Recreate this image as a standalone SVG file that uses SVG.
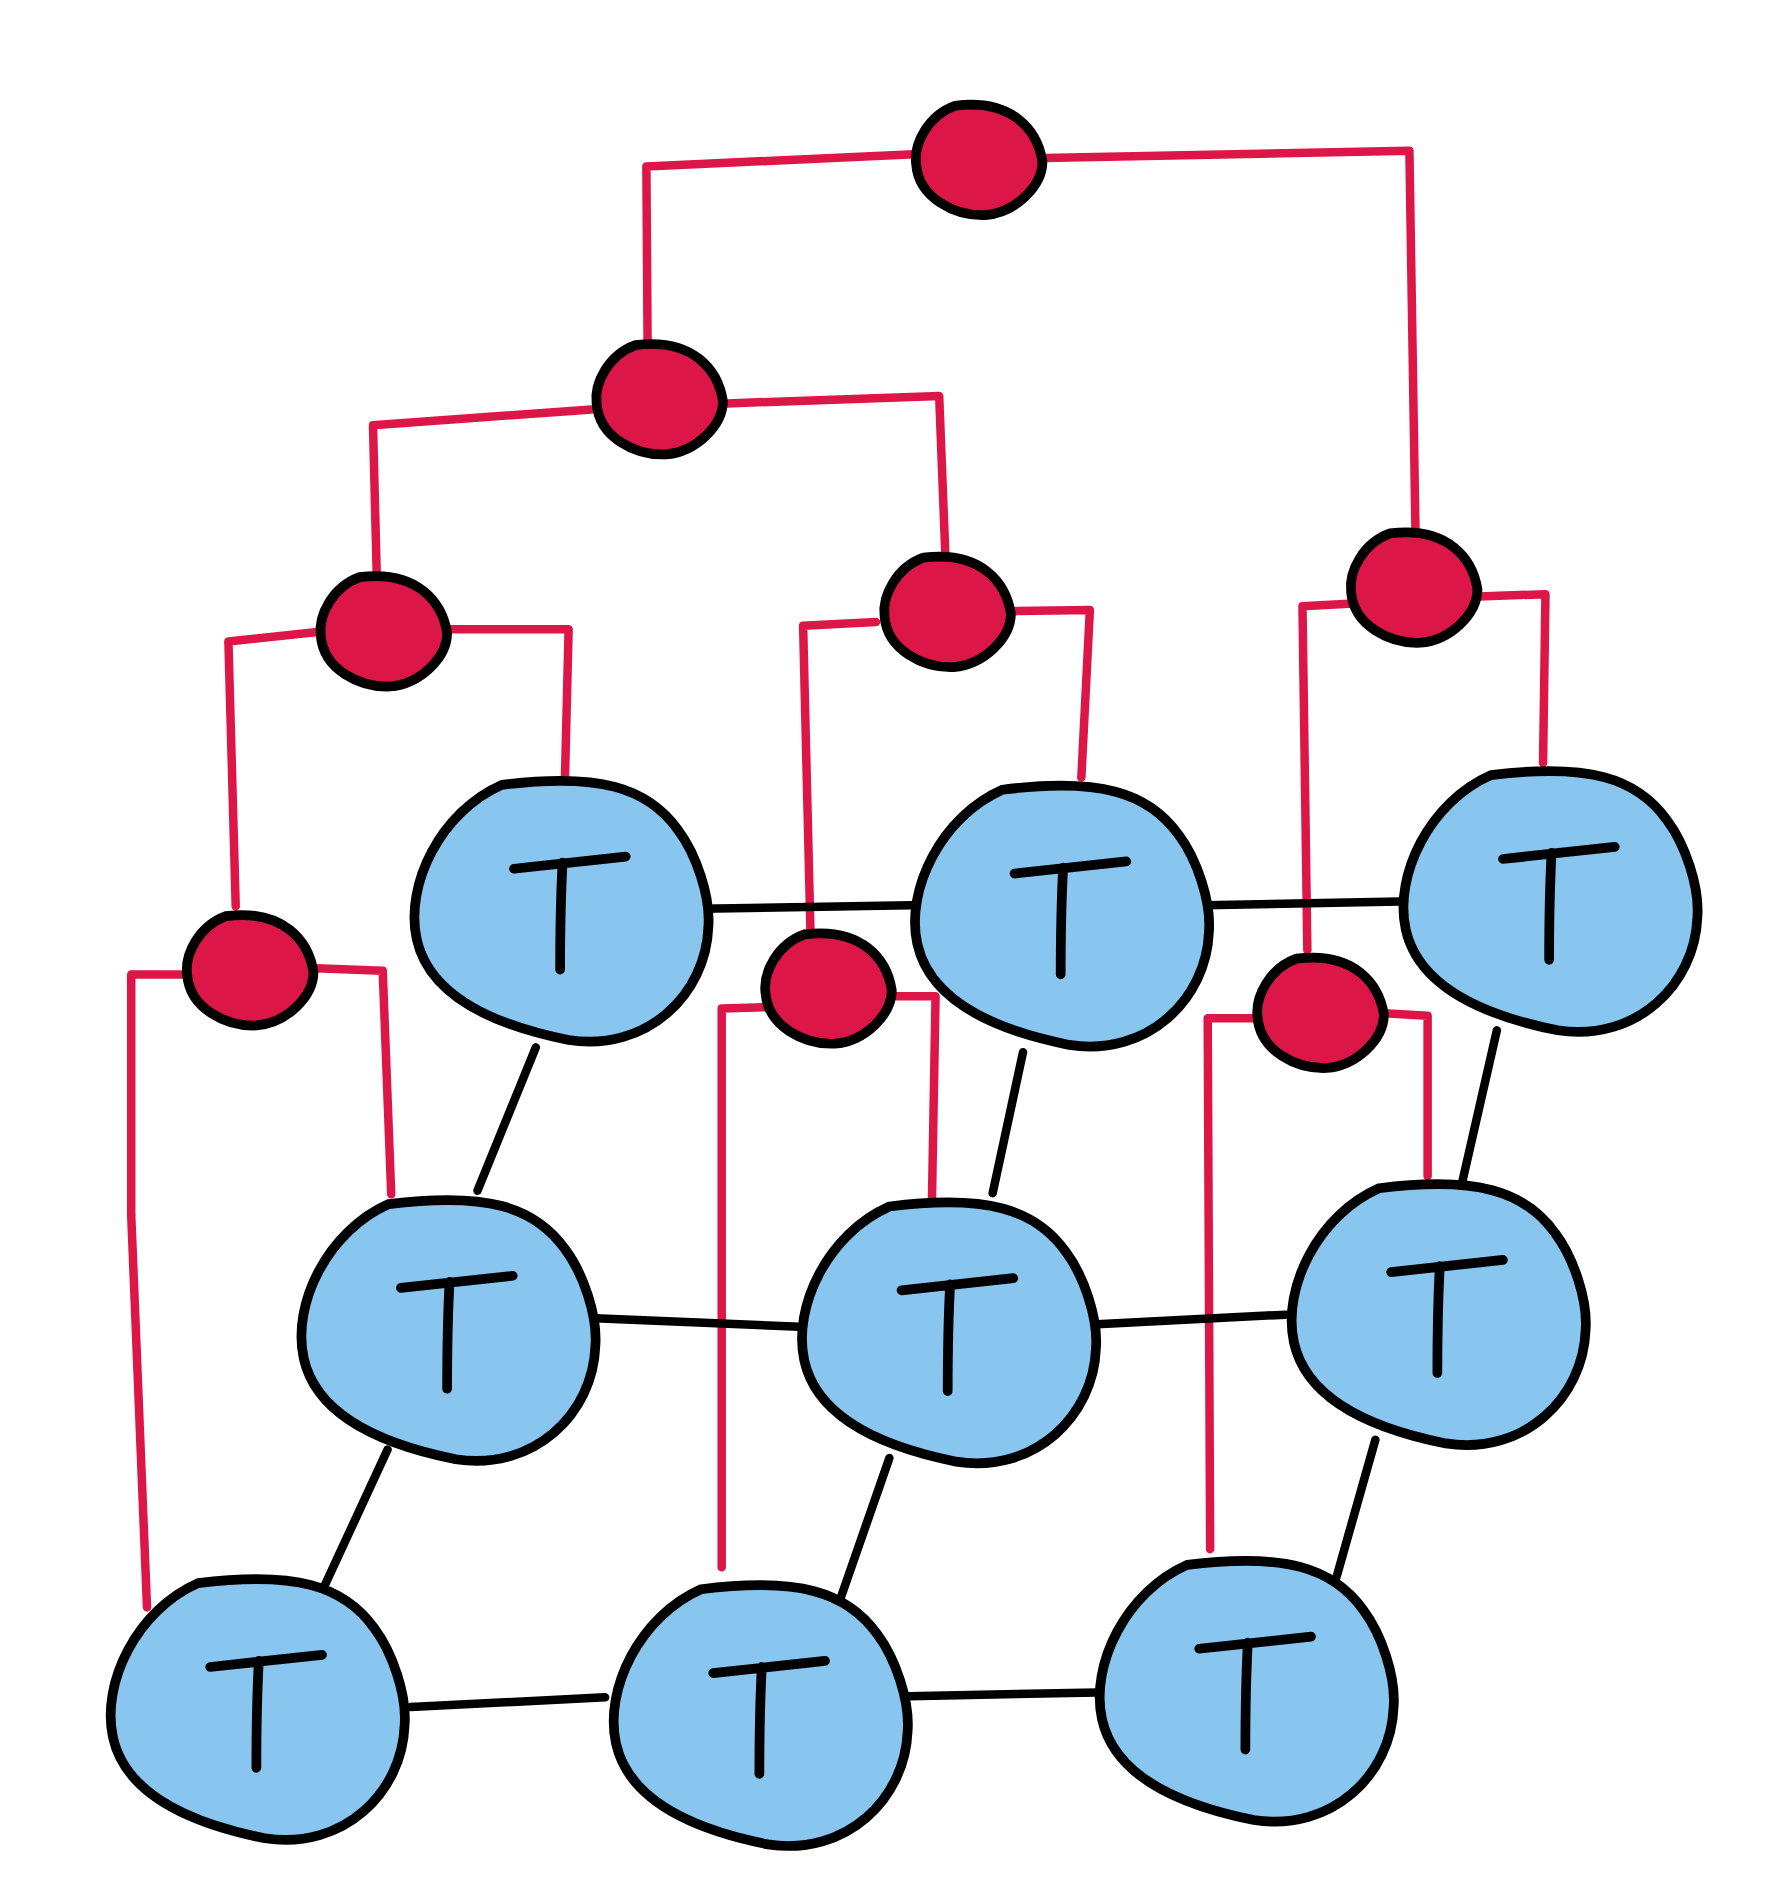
<svg xmlns="http://www.w3.org/2000/svg" width="1781" height="1895" viewBox="0 0 1781 1895">
<style>
.red{fill:none;stroke:#dc1748;stroke-width:7;stroke-linejoin:round;stroke-linecap:round}
.blk{fill:none;stroke:#000;stroke-width:7;stroke-linecap:round}
.rn{fill:#dc1748;stroke:#000;stroke-width:8}
.tn{fill:#88c5ef;stroke:#000;stroke-width:8}
.tl{fill:none;stroke:#000;stroke-width:8;stroke-linecap:round}
</style>
<defs>
<path id="rb" class="rn" d="M -20,-46 C -42,-38 -54,-15 -52,2 C -50,30 -20,45 5,44 C 30,42 52,20 52,0 C 48,-25 28,-52 -20,-46 Z"/>
<g id="tb"><path class="tn" d="M -50,-102 C -100,-80 -130,-20 -120,25 C -110,70 -60,95 5,108 C 70,118 118,70 120,15 C 122,-10 110,-45 95,-65 C 70,-100 30,-112 -50,-102 Z"/>
<path class="tl" d="M -40,-33 L 52,-43 M 0,-38 C -2,0 -2,30 -2,50"/></g>
</defs>
<rect width="1781" height="1895" fill="#fff"/>
<g transform="scale(1.215)">
<g id="connectors">
<polyline class="red" points="752,127 532,137 533,283"/>
<polyline class="red" points="860,130 1160,124 1165,437"/>
<polyline class="red" points="487,337 307,350 310,470"/>
<polyline class="red" points="598,332 773,326 778,455"/>
<polyline class="red" points="263,520 188,528 194,746"/>
<polyline class="red" points="370,518 468,518 465,640"/>
<polyline class="red" points="721,512 661,515 667,765"/>
<polyline class="red" points="835,503 897,502 890,640"/>
<polyline class="red" points="1110,497 1072,499 1076,782"/>
<polyline class="red" points="1217,491 1272,489 1270,628"/>
<polyline class="red" points="150,802 108,802 108,1000 121,1323"/>
<polyline class="red" points="260,797 315,799 322,983"/>
<polyline class="red" points="630,829 594,830 594,1290"/>
<polyline class="red" points="736,820 770,820 767,990"/>
<polyline class="red" points="1032,838 994,838 996,1275"/>
<polyline class="red" points="1139,834 1175,836 1175,968"/>
<line class="blk" x1="578" y1="748" x2="750" y2="745"/>
<line class="blk" x1="992" y1="745" x2="1152" y2="742"/>
<line class="blk" x1="441" y1="862" x2="393" y2="980"/>
<line class="blk" x1="842" y1="866" x2="817" y2="982"/>
<line class="blk" x1="1232" y1="848" x2="1203" y2="975"/>
<line class="blk" x1="490" y1="1085" x2="658" y2="1092"/>
<line class="blk" x1="903" y1="1090" x2="1058" y2="1082"/>
<line class="blk" x1="319" y1="1193" x2="264" y2="1312"/>
<line class="blk" x1="732" y1="1200" x2="692" y2="1315"/>
<line class="blk" x1="1132" y1="1185" x2="1100" y2="1298"/>
<line class="blk" x1="338" y1="1405" x2="498" y2="1397"/>
<line class="blk" x1="748" y1="1396" x2="903" y2="1393"/>
</g>
<g id="r0" transform="translate(806,133)"><use href="#rb"/></g>
<g id="r1" transform="translate(543,330)"><use href="#rb"/></g>
<g id="r2" transform="translate(316,521)"><use href="#rb"/></g>
<g id="r3" transform="translate(780,505)"><use href="#rb"/></g>
<g id="r4" transform="translate(1164,485)"><use href="#rb"/></g>
<g id="r5" transform="translate(206,800)"><use href="#rb"/></g>
<g id="r6" transform="translate(682,815)"><use href="#rb"/></g>
<g id="r7" transform="translate(1087,835)"><use href="#rb"/></g>
<g id="t1" transform="translate(463,748)"><use href="#tb"/></g>
<g id="t2" transform="translate(875,752)"><use href="#tb"/></g>
<g id="t3" transform="translate(1277,740)"><use href="#tb"/></g>
<g id="t4" transform="translate(370,1093)"><use href="#tb"/></g>
<g id="t5" transform="translate(782,1095)"><use href="#tb"/></g>
<g id="t6" transform="translate(1185,1080)"><use href="#tb"/></g>
<g id="t7" transform="translate(213,1405)"><use href="#tb"/></g>
<g id="t8" transform="translate(627,1410)"><use href="#tb"/></g>
<g id="t9" transform="translate(1027,1390)"><use href="#tb"/></g>
</g>
</svg>
